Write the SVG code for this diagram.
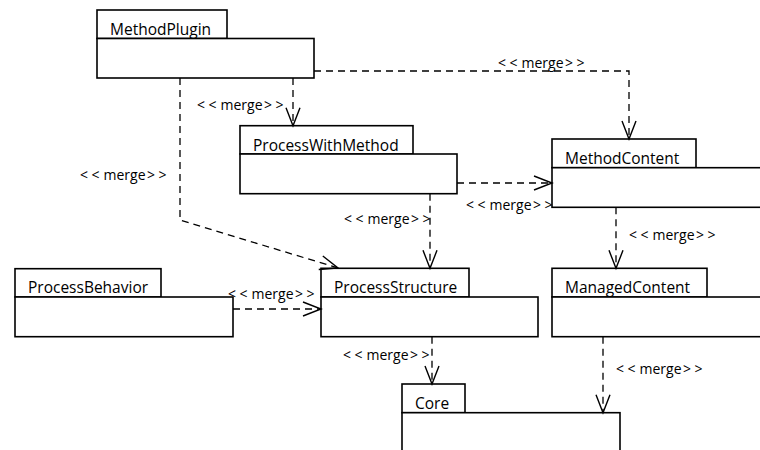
<svg xmlns="http://www.w3.org/2000/svg" width="760" height="450" viewBox="0 0 760 450">
<style>
.box{fill:#fff;stroke:#000;stroke-width:1.6}
.name{font-family:"Open Sans","Noto Sans",sans-serif;font-size:15.5px;fill:#000}
.lbl{font-family:"Open Sans","Noto Sans",sans-serif;font-size:14px;fill:#000}
.dep{fill:none;stroke:#000;stroke-width:1.3;stroke-dasharray:7,5;marker-end:url(#open)}
</style>
<defs>
<marker id="open" markerUnits="userSpaceOnUse" markerWidth="24" markerHeight="20" refX="0" refY="0" viewBox="-20 -10 24 20" orient="auto" overflow="visible">
<path d="M-18,-7 L0,0 L-18,7" fill="none" stroke="#000" stroke-width="1.4"/>
</marker>
</defs>
<rect width="760" height="450" fill="#fff"/>
<g id="MethodPlugin">
<rect class="box" x="97" y="10" width="130" height="28.5"/>
<rect class="box" x="97" y="38.5" width="217" height="39.5"/>
<text class="name" x="110" y="35">MethodPlugin</text>
</g>
<g id="ProcessWithMethod">
<rect class="box" x="240" y="125.7" width="173" height="28.3"/>
<rect class="box" x="240" y="154" width="217" height="39.7"/>
<text class="name" x="253" y="150.5">ProcessWithMethod</text>
</g>
<g id="MethodContent">
<rect class="box" x="552" y="139" width="144" height="28.7"/>
<rect class="box" x="552" y="167.7" width="220" height="39.6"/>
<text class="name" x="565" y="164">MethodContent</text>
</g>
<g id="ProcessBehavior">
<rect class="box" x="15" y="268.7" width="146" height="28.3"/>
<rect class="box" x="15" y="297" width="218" height="39.7"/>
<text class="name" x="28" y="293">ProcessBehavior</text>
</g>
<g id="ProcessStructure">
<rect class="box" x="321" y="268.3" width="148" height="28.7"/>
<rect class="box" x="321" y="297" width="217" height="39.7"/>
<text class="name" x="334" y="293">ProcessStructure</text>
</g>
<g id="ManagedContent">
<rect class="box" x="552" y="268.3" width="155" height="28.7"/>
<rect class="box" x="552" y="297" width="220" height="39.7"/>
<text class="name" x="565" y="293">ManagedContent</text>
</g>
<g id="Core">
<rect class="box" x="402" y="384" width="63" height="28.7"/>
<rect class="box" x="402" y="412.7" width="218" height="50"/>
<text class="name" x="415" y="409">Core</text>
</g>
<g id="connectors">
<polyline class="dep" points="180,78 180,220 338,268"/>
<line class="dep" x1="293" y1="78" x2="293" y2="125.7"/>
<polyline class="dep" points="314,71 629,71 629,139"/>
<line class="dep" x1="457" y1="183" x2="552" y2="183"/>
<line class="dep" x1="430" y1="193.7" x2="430" y2="268.3"/>
<line class="dep" x1="616" y1="207.3" x2="616" y2="268.3"/>
<line class="dep" x1="233" y1="309" x2="321" y2="309"/>
<line class="dep" x1="432" y1="336.7" x2="432" y2="384"/>
<line class="dep" x1="603" y1="336.7" x2="603" y2="412.7"/>
<text class="lbl" x="498" y="68">&lt;<tspan dx="3.5">&lt;</tspan><tspan dx="4">merge</tspan><tspan dx="1.5">&gt;</tspan><tspan dx="3.5">&gt;</tspan></text>
<text class="lbl" x="197" y="110">&lt;<tspan dx="3.5">&lt;</tspan><tspan dx="4">merge</tspan><tspan dx="1.5">&gt;</tspan><tspan dx="3.5">&gt;</tspan></text>
<text class="lbl" x="80" y="180">&lt;<tspan dx="3.5">&lt;</tspan><tspan dx="4">merge</tspan><tspan dx="1.5">&gt;</tspan><tspan dx="3.5">&gt;</tspan></text>
<text class="lbl" x="466" y="210">&lt;<tspan dx="3.5">&lt;</tspan><tspan dx="4">merge</tspan><tspan dx="1.5">&gt;</tspan><tspan dx="3.5">&gt;</tspan></text>
<text class="lbl" x="344" y="224">&lt;<tspan dx="3.5">&lt;</tspan><tspan dx="4">merge</tspan><tspan dx="1.5">&gt;</tspan><tspan dx="3.5">&gt;</tspan></text>
<text class="lbl" x="629" y="240">&lt;<tspan dx="3.5">&lt;</tspan><tspan dx="4">merge</tspan><tspan dx="1.5">&gt;</tspan><tspan dx="3.5">&gt;</tspan></text>
<text class="lbl" x="228" y="299">&lt;<tspan dx="3.5">&lt;</tspan><tspan dx="4">merge</tspan><tspan dx="1.5">&gt;</tspan><tspan dx="3.5">&gt;</tspan></text>
<text class="lbl" x="343" y="360">&lt;<tspan dx="3.5">&lt;</tspan><tspan dx="4">merge</tspan><tspan dx="1.5">&gt;</tspan><tspan dx="3.5">&gt;</tspan></text>
<text class="lbl" x="616" y="374">&lt;<tspan dx="3.5">&lt;</tspan><tspan dx="4">merge</tspan><tspan dx="1.5">&gt;</tspan><tspan dx="3.5">&gt;</tspan></text>
</g>
</svg>
